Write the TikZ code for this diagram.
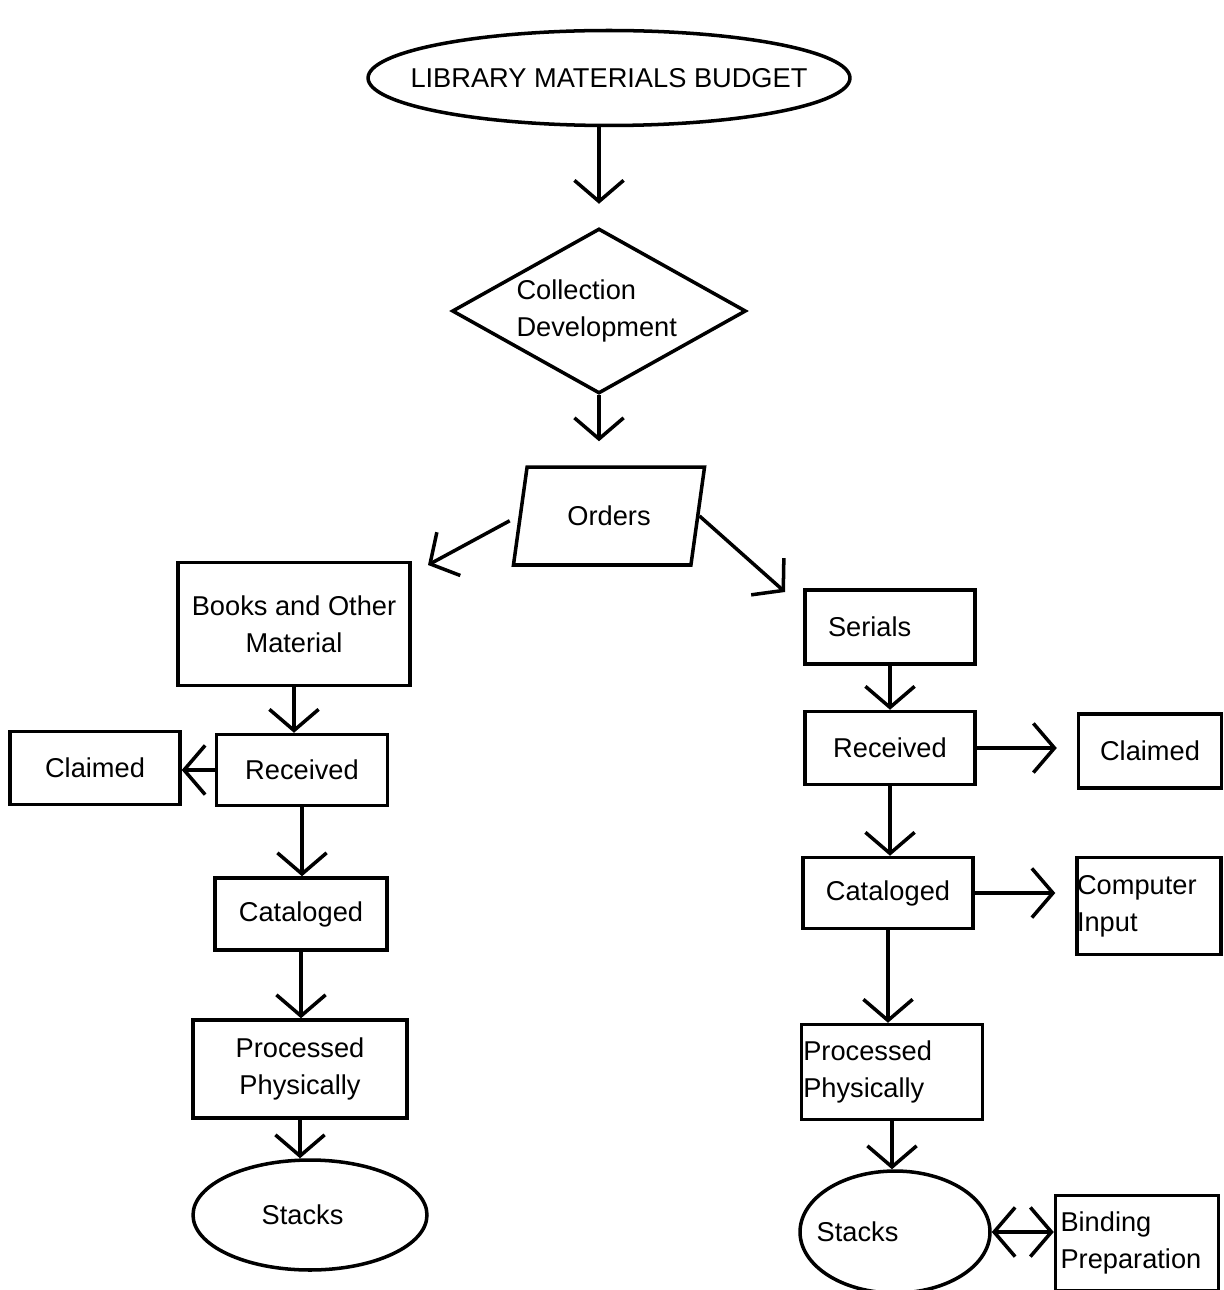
\documentclass[tikz,border=0pt]{standalone}
\usepackage{fontspec}
\setmainfont{Liberation Sans}
\usepackage{tikz}
\usetikzlibrary{shapes.geometric, arrows.meta}

\begin{document}
\begin{tikzpicture}[x=0.02cm, y=-0.02cm, line width=2pt,
    font=\fontsize{15.5}{21}\selectfont,
    stage/.style={draw, inner sep=2pt, align=center},
    flow/.style={-{Straight Barb[length=12pt, width=28pt]}}]
  \useasboundingbox (0,0) rectangle (1223,1290);

  % top of the chart
  \node[draw, ellipse, minimum width=9.64cm, minimum height=1.9cm](budget) at (609,78){\makebox[0pt]{LIBRARY MATERIALS BUDGET}};
  \node[draw, diamond, aspect=1.78, inner sep=0pt, minimum width=5.88cm, minimum height=3.3cm, align=left](cd) at (599,311){\raisebox{-0.12cm}{\parbox{3.3cm}{Collection\\Development}}};
  \node[draw, trapezium, trapezium left angle=76, trapezium right angle=104, trapezium stretches=true, minimum width=3.84cm, minimum height=1.96cm](orders) at (609,516){Orders};
  \coordinate (bookin) at (428,565);
  \coordinate (serin) at (785,592);

  \draw[flow, shorten >=0.46cm] (cd.north |- budget.south) -- (cd.north);
  \draw[flow, shorten >=0.48cm] (cd.south) -- (cd.south |- orders.north);
  \draw[flow, shorten <=0.2cm] (orders.west) -- (bookin);
  \draw[flow] (orders.east) -- (serin);

  % books side
  \node[stage, minimum width=4.64cm, minimum height=2.46cm](books) at (294,624){Books and Other\\Material};
  \node[stage, minimum width=3.42cm, minimum height=1.42cm](recL) at (302,770){Received};
  \node[stage, minimum width=3.4cm, minimum height=1.46cm](claimL) at (95,768){Claimed};
  \node[stage, minimum width=3.44cm, minimum height=1.44cm](catL) at (301,914){Cataloged};
  \node[stage, minimum width=4.28cm, minimum height=1.96cm](procL) at (300,1069){Processed\\Physically};
  \node[draw, ellipse, minimum width=4.68cm, minimum height=2.2cm](stacksL) at (310,1215){\makebox[0pt]{Stacks\hspace{0.3cm}}};

  \draw[flow] (books.south) -- (books.south |- recL.north);
  \draw[flow] (recL.west) -- (recL.west -| claimL.east);
  \draw[flow] (recL.south) -- (recL.south |- catL.north);
  \draw[flow] (catL.south) -- (catL.south |- procL.north);
  \draw[flow] (procL.south) -- (procL.south |- stacksL.north);

  % serials side
  \node[stage, minimum width=3.4cm, minimum height=1.48cm, text width=2.48cm, align=left](serials) at (890,627){Serials};
  \node[stage, minimum width=3.4cm, minimum height=1.46cm](recR) at (890,748){Received};
  \node[stage, minimum width=2.86cm, minimum height=1.48cm](claimR) at (1150,751){Claimed};
  \node[stage, minimum width=3.4cm, minimum height=1.42cm](catR) at (888,893){Cataloged};
  \node[stage, minimum width=2.88cm, minimum height=1.94cm, inner xsep=0pt, text width=2.88cm, align=left](compR) at (1149,906){Computer\\Input};
  \node[stage, minimum width=3.62cm, minimum height=1.9cm, inner xsep=1pt, text width=3.55cm, align=left](procR) at (892,1072){Processed\\Physically};
  \node[draw, ellipse, minimum width=3.8cm, minimum height=2.44cm](stacksR) at (895,1232){\makebox[0pt]{Stacks\hspace{1.5cm}}};
  \node[stage, minimum width=3.26cm, minimum height=1.9cm, inner xsep=0.1cm, text width=3.06cm, align=left](bindR) at (1137,1243){Binding\\Preparation};

  \draw[flow] (serials.south) -- (serials.south |- recR.north);
  \draw[flow, shorten >=0.4cm] (recR.east) -- (claimR.west |- recR.east);
  \draw[flow] (recR.south) -- (recR.south |- catR.north);
  \draw[flow, shorten >=0.4cm] (catR.east) -- (compR.west |- catR.east);
  \draw[flow] (catR.south) -- (catR.south |- procR.north);
  \draw[flow] (procR.south) -- (procR.south |- stacksR.north);
  \draw[{Straight Barb[length=12pt, width=28pt]}-{Straight Barb[length=12pt, width=28pt]}] (stacksR.east) -- (bindR.west |- stacksR.east);
\end{tikzpicture}
\end{document}
